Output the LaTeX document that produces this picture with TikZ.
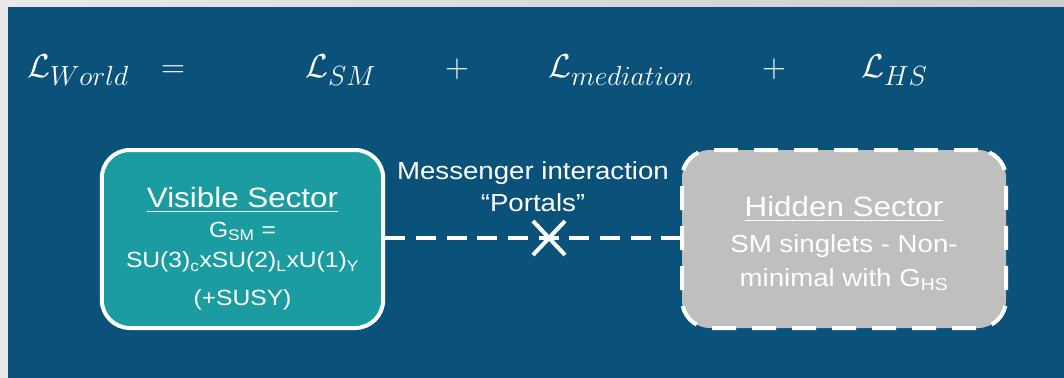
\documentclass[tikz,border=0pt]{standalone}
\usepackage{fontspec}
\setmainfont{Liberation Sans}[FakeStretch=1.12]
\usepackage{amsmath}
\usetikzlibrary{positioning}
\DeclareMathSizes{26}{26}{20}{15}
\definecolor{panelblue}{HTML}{0B527A}
\definecolor{visfill}{HTML}{1B9CA1}
\definecolor{hidfill}{HTML}{BFBFBF}
\definecolor{framegray}{HTML}{E9E9E9}
\newcommand{\secttitle}{\fontsize{21}{24}\selectfont}
\newcommand{\sectbody}{\fontsize{16.5}{22}\selectfont}
\newcommand{\hidbody}{\fontsize{18.5}{22}\selectfont}

\begin{document}
\begin{tikzpicture}[
    x=0.75pt,y=-0.75pt,
    eq/.style={text=white,inner sep=0pt,font=\fontsize{26}{30}\selectfont},
    sector/.style={rounded corners=21pt,line width=3pt,draw=white,
      minimum height=133.5pt,inner sep=0pt},
    visible/.style={sector,fill=visfill,minimum width=211pt},
    hidden/.style={sector,fill=hidfill,minimum width=243pt,dash pattern=on 18pt off 12pt},
    sectext/.style={text=white,align=center,inner sep=0pt,anchor=north},
    portal/.style={draw=white,line width=3.5pt,dash pattern=on 15pt off 8pt},
    xmark/.style={draw=white,line width=3pt},
  ]
    % frame and panel
    \useasboundingbox (0,0) rectangle (1064,378);
    \fill[framegray] (0,0) rectangle (1064,378);
    \shade[left color=framegray,right color=black!20] (0,0) rectangle (1064,7);
    \fill[panelblue] (8,7) rectangle (1064,378);

    % Lagrangian
    \node[eq,anchor=base west] (lworld) at (27,78) {$\mathcal{L}_{World}$};
    \node[eq,anchor=base] (eqsign) at (173,78) {$=$};
    \node[eq,anchor=base west] (lsm) at (305,78) {$\mathcal{L}_{SM}$};
    \node[eq,anchor=base] (plusa) at (457,78) {$+$};
    \node[eq,anchor=base west] (lmed) at (548,78) {$\mathcal{L}_{mediation}$};
    \node[eq,anchor=base] (plusb) at (774,78) {$+$};
    \node[eq,anchor=base west] (lhs) at (861,78) {$\mathcal{L}_{HS}$};

    % sectors
    \node[visible] (vis) at (242.5,239) {};
    \node[sectext,font=\sectbody] (vistext) at (242.5,186.5) {%
      \secttitle\underline{Visible Sector}\\[0.5pt]
      \sectbody G\textsubscript{SM} =\\[1pt]
      \sectbody SU(3)\textsubscript{c}xSU(2)\textsubscript{L}xU(1)\textsubscript{Y}\\[6.5pt]
      \sectbody (+SUSY)};
    \node[hidden] (hid) at (844,239) {};
    \node[sectext,font=\hidbody] (hidtext) at (844,195.5) {%
      \secttitle\underline{Hidden Sector}\\[5pt]
      \hidbody SM singlets - Non-\\[3.5pt]
      \hidbody minimal with G\textsubscript{HS}};

    % portal
    \coordinate (cross) at (549,238);
    \draw[portal] (vis.east |- cross) -- (hid.west |- cross);
    \draw[xmark] ([shift={(-16,-17)}]cross) -- ([shift={(16,17)}]cross);
    \draw[xmark] ([shift={(-16,17)}]cross) -- ([shift={(16,-17)}]cross);
    \node[text=white,align=center,font=\fontsize{18.5}{24}\selectfont,above=16pt of cross,xshift=-12pt] (msg)
      {Messenger interaction\\“Portals”};
\end{tikzpicture}
\end{document}
